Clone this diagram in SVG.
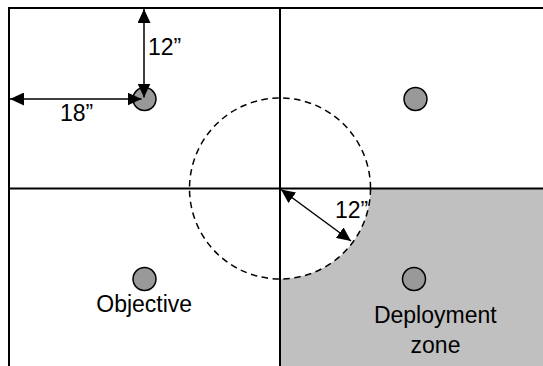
<svg xmlns="http://www.w3.org/2000/svg" width="543" height="366" viewBox="0 0 543 366">
<style>
.grid{stroke:#000;stroke-width:2;fill:none}
.obj{fill:#999;stroke:#000;stroke-width:1.5}
.arr{stroke:#000;stroke-width:1.5;fill:none;marker-start:url(#ah);marker-end:url(#ah)}
.dash{fill:none;stroke:#000;stroke-width:1.5;stroke-dasharray:6.5 4.5}
text{font-family:"Liberation Sans",Arial,sans-serif;font-size:23px;fill:#000}
</style>
<defs>
<marker id="ah" viewBox="0 0 14 13" refX="14" refY="6.5" markerWidth="14" markerHeight="13" markerUnits="userSpaceOnUse" orient="auto-start-reverse">
<path d="M0 0 L14 6.5 L0 13 Z" fill="#000"/>
</marker>
</defs>
<rect width="543" height="366" fill="#fff"/>
<g id="deployment-zone">
<path d="M370.5 188.5 H543 V366 H280 V279 A90.5 90.5 0 0 0 370.5 188.5 Z" fill="#c0c0c0"/>
</g>
<g id="board">
<path class="grid" d="M9 8 H543 M9 7 V366 M9 188.5 H543 M280 8 V366"/>
</g>
<g id="range-circle">
<circle class="dash" cx="280" cy="188.5" r="90.5"/>
</g>
<g id="objective-tl"><circle class="obj" cx="144.5" cy="99" r="11.5"/></g>
<g id="objective-tr"><circle class="obj" cx="415.5" cy="99" r="11.5"/></g>
<g id="objective-bl"><circle class="obj" cx="144.5" cy="279" r="11.5"/><text x="144.2" y="311.7" text-anchor="middle">Objective</text></g>
<g id="objective-br"><circle class="obj" cx="414" cy="279" r="11.5"/><text x="435.3" y="323.3" text-anchor="middle">Deployment</text><text x="435.5" y="353.3" text-anchor="middle">zone</text></g>
<g id="connectors">
<line class="arr" x1="144" y1="9" x2="144" y2="97.5"/>
<line class="arr" x1="10" y1="99" x2="141.5" y2="99"/>
<line class="arr" x1="281" y1="189.5" x2="351" y2="241"/>
</g>
<g id="labels">
<text x="148" y="55">12”</text>
<text x="60" y="120.5">18”</text>
<text x="335" y="218">12”</text>
</g>
</svg>
